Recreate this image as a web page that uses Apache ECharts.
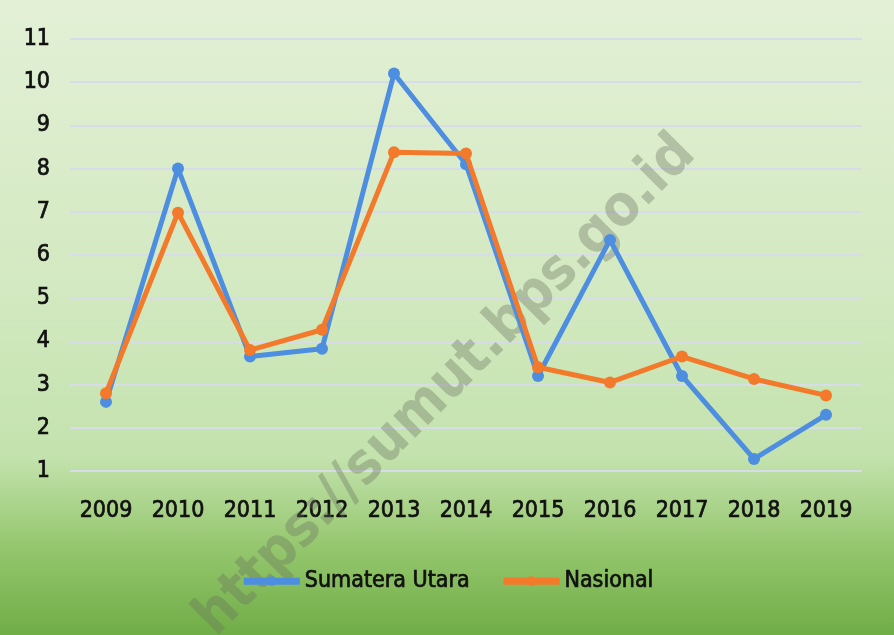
<!DOCTYPE html>
<html>
<head>
<meta charset="utf-8">
<script src="https://cdn.jsdelivr.net/npm/echarts@6/dist/echarts.min.js"></script>
<style>
  html, body { margin: 0; padding: 0; }
  #chart { width: 894px; height: 635px; }
</style>
</head>
<body>
<div id="chart"></div>
<script>
const years = ["2009", "2010", "2011", "2012", "2013", "2014", "2015", "2016", "2017", "2018", "2019"]
const sumut = [2.6, 8.0, 3.65, 3.83, 10.2, 8.1, 3.2, 6.35, 3.2, 1.28, 2.3]
const nasional = [2.8, 6.98, 3.8, 4.27, 8.38, 8.35, 3.4, 3.05, 3.65, 3.13, 2.75]
const seriesNames = ["Sumatera Utara", "Nasional"]

const labelFont = "'DejaVu Sans Condensed', 'DejaVu Sans', sans-serif"
// a thin outline in the text colour makes the labels a bit heavier, like the original
const labelText = {
    fontFamily: labelFont,
    fontSize: 23,
    color: "#111",
    textBorderColor: "#111",
    textBorderWidth: 0.7
}

const chart = echarts.init(document.getElementById("chart"))

const option = {
    backgroundColor: new echarts.graphic.LinearGradient(0, 0, 0, 1, [
        { offset: 0, color: "#e3f0d6" },
        { offset: 0.45, color: "#d3e9c1" },
        { offset: 0.72, color: "#c3e2ad" },
        { offset: 0.86, color: "#95c76e" },
        { offset: 1, color: "#70ad47" }
    ]),
    grid: { left: 70, right: 32, top: 39, bottom: 164 },
    legend: {
        bottom: 37,
        left: "center",
        itemWidth: 56,
        itemHeight: 12,
        itemGap: 30,
        lineStyle: { width: 7 },
        textStyle: labelText,
        data: seriesNames
    },
    xAxis: {
        type: "category",
        data: years,
        boundaryGap: true,
        axisLine: { show: false },
        axisTick: { show: false },
        axisLabel: { ...labelText, interval: 0, margin: 29 }
    },
    yAxis: {
        type: "value",
        min: 1,
        max: 11,
        interval: 1,
        axisLine: { show: false },
        axisTick: { show: false },
        axisLabel: { ...labelText, margin: 20 },
        splitLine: { lineStyle: { color: "#d6dce8", width: 2 } }
    },
    series: [
        {
            name: seriesNames[0],
            type: "line",
            data: sumut,
            symbol: "circle",
            symbolSize: 12,
            color: "#4d8ee0",
            lineStyle: { width: 5 },
            z: 3
        },
        {
            name: seriesNames[1],
            type: "line",
            data: nasional,
            symbol: "circle",
            symbolSize: 12,
            color: "#f27a2a",
            lineStyle: { width: 5 },
            z: 4
        }
    ],
    // watermark of the source
    graphic: [{
        type: "text",
        z: 1,
        rotation: Math.PI / 4,
        x: 446,
        y: 386,
        style: {
            text: "https://sumut.bps.go.id",
            align: "center",
            verticalAlign: "middle",
            font: "bold 57px 'DejaVu Sans Condensed', 'DejaVu Sans', sans-serif",
            fill: "rgba(105,115,95,0.36)"
        }
    }]
}

chart.setOption(option)
</script>
</body>
</html>
